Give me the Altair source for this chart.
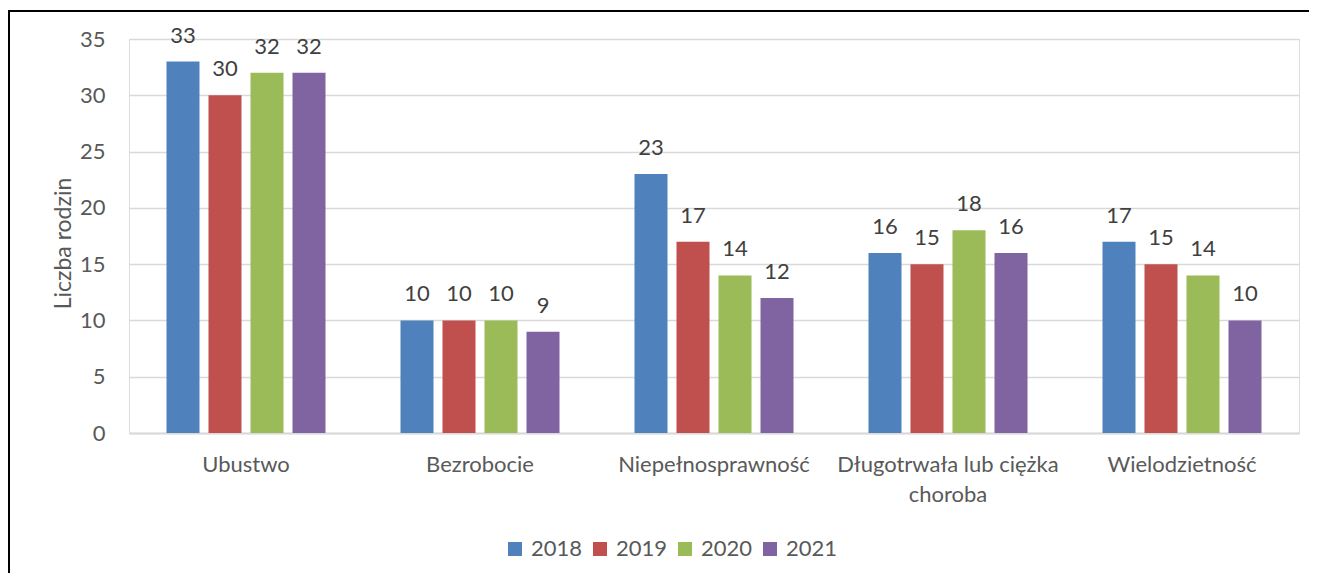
import altair as alt
import pandas as pd

categories = ["Ubustwo", "Bezrobocie", "Niepełnosprawność",
              "Długotrwała lub ciężka choroba", "Wielodzietność"]
years = ["2018", "2019", "2020", "2021"]
v2018 = [33, 10, 23, 16, 17]
v2019 = [30, 10, 17, 15, 15]
v2020 = [32, 10, 14, 18, 14]
v2021 = [32, 9, 12, 16, 10]
colors = ["#4F81BD", "#C0504D", "#9BBB59", "#8064A2"]
y_ticks = [0, 5, 10, 15, 20, 25, 30, 35]

rows = []
for yr, vals in zip(years, [v2018, v2019, v2020, v2021]):
    for c, v in zip(categories, vals):
        rows.append({"kategoria": c, "rok": yr, "wartosc": v})
df = pd.DataFrame(rows)

FONT = "Lato"
FS = 22

x = alt.X(
    "kategoria:N", sort=categories,
    scale=alt.Scale(paddingInner=0.282, paddingOuter=0.141),
    axis=alt.Axis(
        title=None, labelAngle=0, labelFont=FONT, labelFontSize=FS,
        labelColor="#595959", labelPadding=21, labelLimit=400,
        labelLineHeight=30, ticks=False, domainColor="#D9D9D9", domainWidth=2,
        labelExpr="datum.value == 'Długotrwała lub ciężka choroba' ? ['Długotrwała lub ciężka', 'choroba'] : datum.label",
    ),
)
xo = alt.XOffset("rok:N", sort=years,
                 scale=alt.Scale(paddingInner=0.214, paddingOuter=0.107))
y = alt.Y(
    "wartosc:Q",
    scale=alt.Scale(domain=[0, 35], nice=False),
    axis=alt.Axis(
        values=y_ticks, title="Liczba rodzin", titleFont=FONT, titleFontSize=23,
        titleFontWeight="normal", titleColor="#595959", titleX=-66, titleY=204,
        titleAngle=270, titleAlign="center", titleBaseline="middle",
        labelFont=FONT, labelFontSize=FS, labelColor="#595959", labelPadding=24,
        ticks=False, domain=False, gridColor="#D9D9D9", gridWidth=1.3,
    ),
)
color = alt.Color(
    "rok:N", sort=years,
    scale=alt.Scale(domain=years, range=colors),
    legend=alt.Legend(
        title=None, orient="none", legendX=375, legendY=499,
        direction="horizontal", symbolType="square", symbolSize=196,
        symbolStrokeWidth=0, labelFont=FONT, labelFontSize=FS,
        labelColor="#595959", labelOffset=5, columnPadding=6,
    ),
)

base = alt.Chart(df)
bars = base.mark_bar().encode(x=x, xOffset=xo, y=y, color=color)
labels = base.mark_text(baseline="middle", dy=-26, font=FONT, fontSize=FS,
                        color="#404040").encode(
    x=x, xOffset=xo, y=y, text="wartosc:Q")

one = pd.DataFrame({"a": [0]})
top_border = alt.Chart(one).mark_rule(color="black", strokeWidth=2).encode(
    x=alt.value(-121), x2=alt.value(1300), y=alt.value(-28))
left_border = alt.Chart(one).mark_rule(color="black", strokeWidth=2).encode(
    x=alt.value(-120), y=alt.value(-29), y2=alt.value(620))

chart = alt.layer(bars, labels, top_border, left_border).properties(
    width=1170, height=394,
    autosize=alt.AutoSizeParams(type="none"),
    padding={"left": 121, "top": 31, "right": 10, "bottom": 140},
).configure_view(stroke=None).configure(background="white")

chart.save("out.html", embed_options={"renderer": "svg", "actions": False})
